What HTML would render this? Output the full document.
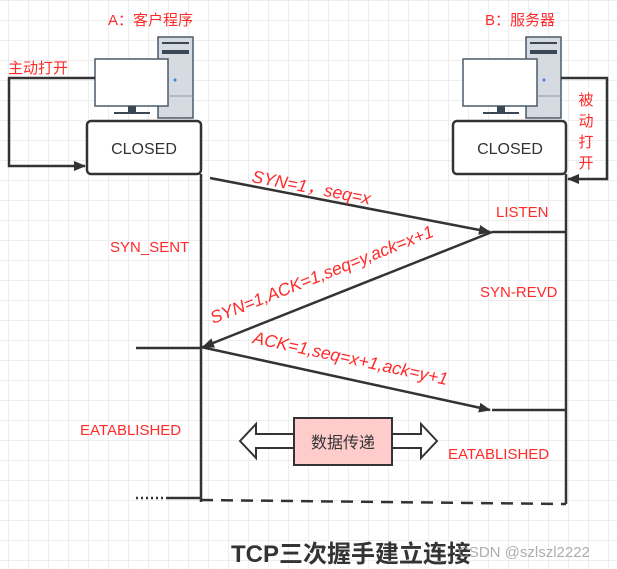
<!DOCTYPE html>
<html><head><meta charset="utf-8"><style>
body{margin:0;background:#fff;}
svg{display:block}
.r{fill:#ff2a2a;font-family:"Liberation Sans","Noto Sans CJK SC",sans-serif;font-size:15px}
.i{font-style:italic;font-size:17.5px}
</style></head><body>
<svg width="617" height="569" viewBox="0 0 617 569" xmlns="http://www.w3.org/2000/svg">
<defs>
<pattern id="g" width="20" height="20" patternUnits="userSpaceOnUse" x="9" y="1">
<path d="M20 0V20M0 20H20" stroke="#dedede" stroke-width="1" fill="none"/>
</pattern>
<marker id="a" markerWidth="12" markerHeight="10" refX="11" refY="5" orient="auto" markerUnits="userSpaceOnUse">
<path d="M0,0 L12,5 L0,10 Z" fill="#333"/>
</marker>
</defs>
<rect width="617" height="569" fill="url(#g)"/>
<g stroke="#333" stroke-width="2.5" fill="none">
<rect x="158" y="37" width="35" height="81" fill="#d5dbe1" stroke="#4a5a6a" stroke-width="1.5"/>
<rect x="95" y="59" width="73" height="47" fill="#fff" stroke="#4a5a6a" stroke-width="1.5"/>
<rect x="526" y="37" width="35" height="81" fill="#d5dbe1" stroke="#4a5a6a" stroke-width="1.5"/>
<rect x="463" y="59" width="74" height="47" fill="#fff" stroke="#4a5a6a" stroke-width="1.5"/>
</g>
<g fill="#3a4856">
<rect x="162" y="42" width="27" height="2"/><rect x="162" y="50" width="27" height="4"/>
<rect x="530" y="42" width="27" height="2"/><rect x="530" y="50" width="27" height="4"/>
<rect x="128" y="106" width="8" height="6"/><rect x="114" y="112" width="36" height="2"/>
<rect x="497" y="106" width="8" height="6"/><rect x="483" y="112" width="36" height="2"/>
</g>
<circle cx="175" cy="80" r="1.5" fill="#3b7ddd"/><circle cx="544" cy="80" r="1.5" fill="#3b7ddd"/>
<line x1="168" y1="96" x2="193" y2="96" stroke="#8a98a6"/><line x1="537" y1="96" x2="561" y2="96" stroke="#8a98a6"/>
<g stroke="#333" stroke-width="2.5" fill="#fff">
<rect x="87" y="121" width="114" height="53" rx="4"/>
<rect x="453" y="121" width="113" height="53" rx="4"/>
</g>
<g font-family="Liberation Sans,sans-serif" font-size="16" fill="#333" text-anchor="middle">
<text x="144" y="154">CLOSED</text><text x="510" y="154">CLOSED</text>
</g>
<g stroke="#333" stroke-width="2.5" fill="none">
<path d="M95 78H9V166H85" marker-end="url(#a)"/>
<path d="M561 78H607V179H568" marker-end="url(#a)"/>
<line x1="201" y1="174" x2="201" y2="502"/>
<line x1="566" y1="174" x2="566" y2="504"/>
<line x1="210" y1="178" x2="490" y2="232" marker-end="url(#a)"/>
<line x1="492" y1="232" x2="566" y2="232"/>
<line x1="492" y1="232" x2="203" y2="347" marker-end="url(#a)"/>
<line x1="136" y1="348" x2="201" y2="348"/>
<line x1="201" y1="347" x2="490" y2="410" marker-end="url(#a)"/>
<line x1="492" y1="410" x2="566" y2="410"/>
<line x1="136" y1="498" x2="168" y2="498" stroke-dasharray="2 3"/>
<line x1="168" y1="498" x2="201" y2="498"/>
<line x1="201" y1="500" x2="566" y2="504" stroke-dasharray="12 8"/>
</g>
<path d="M240 441L256 424V434H294V448H256V458Z M437 441L421 424V434H392V448H421V458Z" fill="#fff" stroke="#333" stroke-width="2"/>
<rect x="294" y="418" width="98" height="47" fill="#ffcccc" stroke="#333" stroke-width="2"/>
<text x="343" y="448" text-anchor="middle" font-family="Liberation Sans,Noto Sans CJK SC,sans-serif" font-size="16" fill="#333">数据传递</text>
<text class="r" x="108" y="25">A：客户程序</text>
<text class="r" x="485" y="25">B：服务器</text>
<text class="r" x="8" y="73">主动打开</text>
<g class="r" text-anchor="middle"><text x="586" y="105">被</text><text x="586" y="126">动</text><text x="586" y="147">打</text><text x="586" y="168">开</text></g>
<text class="r" x="496" y="217">LISTEN</text>
<text class="r" x="110" y="252">SYN_SENT</text>
<text class="r" x="480" y="297">SYN-REVD</text>
<text class="r" x="80" y="435">EATABLISHED</text>
<text class="r" x="448" y="459">EATABLISHED</text>
<text class="r i" transform="translate(251,182) rotate(10.8)">SYN=1，seq=x</text>
<text class="r i" transform="translate(213,324) rotate(-21.6)">SYN=1,ACK=1,seq=y,ack=x+1</text>
<text class="r i" transform="translate(252,343) rotate(12.2)">ACK=1,seq=x+1,ack=y+1</text>
<text x="231" y="562" font-family="Liberation Sans,Noto Sans CJK SC,sans-serif" font-size="24" font-weight="bold" fill="#333">TCP三次握手建立连接</text>
<text x="458" y="557" font-family="Liberation Sans,sans-serif" font-size="15" fill="#999" opacity="0.8">CSDN @szlszl2222</text>
</svg>
</body></html>
